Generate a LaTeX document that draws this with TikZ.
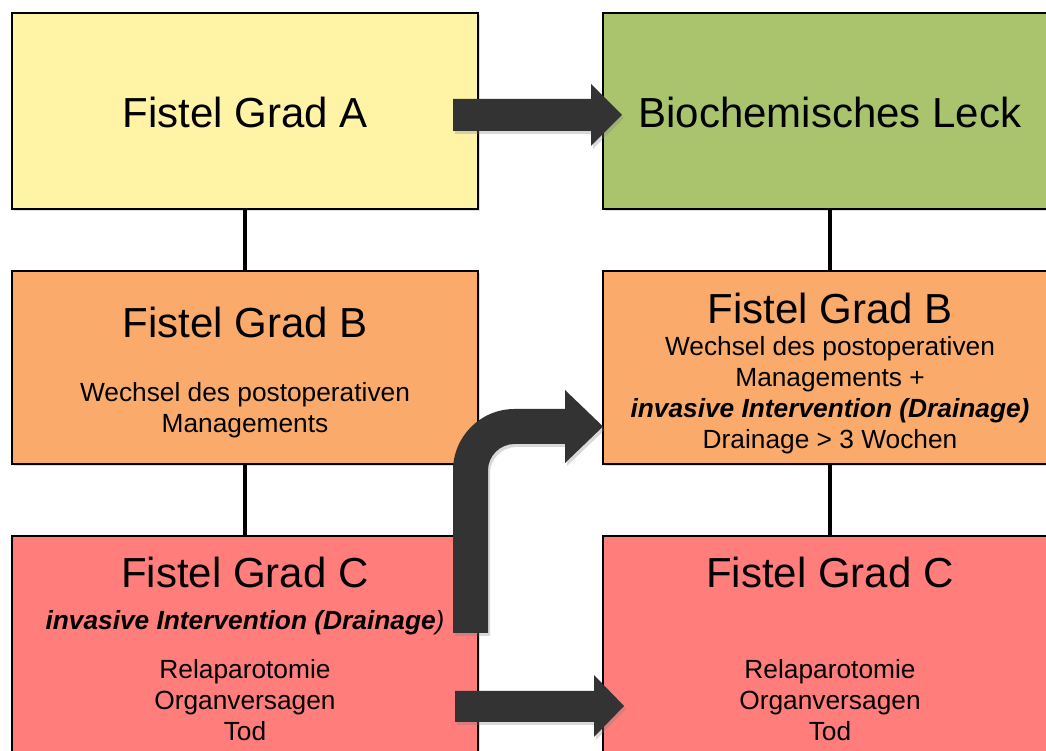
\documentclass[tikz,border=0pt]{standalone}
\usepackage{fontspec}
\setmainfont{Liberation Sans}
\usetikzlibrary{shadows}
\definecolor{cyel}{RGB}{255,243,166}
\definecolor{cgrn}{RGB}{170,196,110}
\definecolor{corg}{RGB}{250,171,108}
\definecolor{cred}{RGB}{255,125,122}
\definecolor{carr}{RGB}{51,51,51}
\begin{document}
\begin{tikzpicture}[x=1pt,y=1pt,
  box/.style={draw=black, line width=1.6pt, inner sep=0pt,
    drop shadow={shadow xshift=1.5pt, shadow yshift=-2.5pt, opacity=0.25}},
  lbox/.style={box, minimum width=466pt},
  rbox/.style={box, minimum width=454pt},
  conn/.style={draw=black, line width=4.4pt},
  big/.style={font=\fontsize{42}{48}\selectfont},
  small/.style={font=\fontsize{26.3}{31}\selectfont, align=center},
  blk/.style={fill=carr, drop shadow={shadow xshift=2pt, shadow yshift=-3pt, opacity=0.3}}
]
\useasboundingbox (0,0) rectangle (1046,751);
\clip (0,0) rectangle (1046,751);
% boxes
\node[lbox, fill=cyel, minimum height=196pt] (A) at (245,640) {};
\node[rbox, fill=cgrn, minimum height=196pt] (L) at (830,640) {};
\node[lbox, fill=corg, minimum height=193pt] (B1) at (245,383.5) {};
\node[rbox, fill=corg, minimum height=193pt] (B2) at (830,383.5) {};
\node[lbox, fill=cred, minimum height=240pt] (C1) at (245,95) {};
\node[rbox, fill=cred, minimum height=240pt] (C2) at (830,95) {};
% connectors
\draw[conn] (A.south) -- (B1.north);
\draw[conn] (B1.south) -- (C1.north);
\draw[conn] (L.south) -- (B2.north);
\draw[conn] (B2.south) -- (C2.north);
% texts
\node[big] (tA) at (245,638) {Fistel Grad A};
\node[big] (tL) at (830,638) {Biochemisches Leck};
\node[big] (tB1) at (245,429) {Fistel Grad B};
\node[small] (sB1) at (245,340.5) {Wechsel des postoperativen\\Managements};
\node[big] (tB2) at (830,443) {Fistel Grad B};
\node[small] (sB2) at (830,356) {Wechsel des postoperativen\\Managements +\\\textbf{\textit{invasive Intervention (Drainage)}}\\Drainage > 3 Wochen};
\node[big] (tC1) at (245,179) {Fistel Grad C};
\node[small] (iC1) at (245,128) {\textbf{\textit{invasive Intervention (Drainage}}\textit{)}};
\node[small] (sC1) at (245,51) {Relaparotomie\\Organversagen\\Tod};
\node[big] (tC2) at (830,179) {Fistel Grad C};
\node[small] (sC2) at (830,51) {Relaparotomie\\Organversagen\\Tod};
% block arrows
\fill[blk] (453,620) -- (591,620) -- (591,605) -- (622,636) -- (591,667) -- (591,652) -- (453,652) -- cycle;
\fill[blk] (455,29) -- (594,29) -- (594,14) -- (624,45) -- (594,76) -- (594,60) -- (455,60) -- cycle;
\fill[blk] (453,118) -- (453,280.5) arc[start angle=180, end angle=90, radius=61.5]
  -- (565,342) -- (565,361) -- (603,324.5) -- (565,288) -- (565,307) -- (514.5,307)
  arc[start angle=90, end angle=180, radius=26.5] -- (488,118) -- cycle;
\end{tikzpicture}
\end{document}
